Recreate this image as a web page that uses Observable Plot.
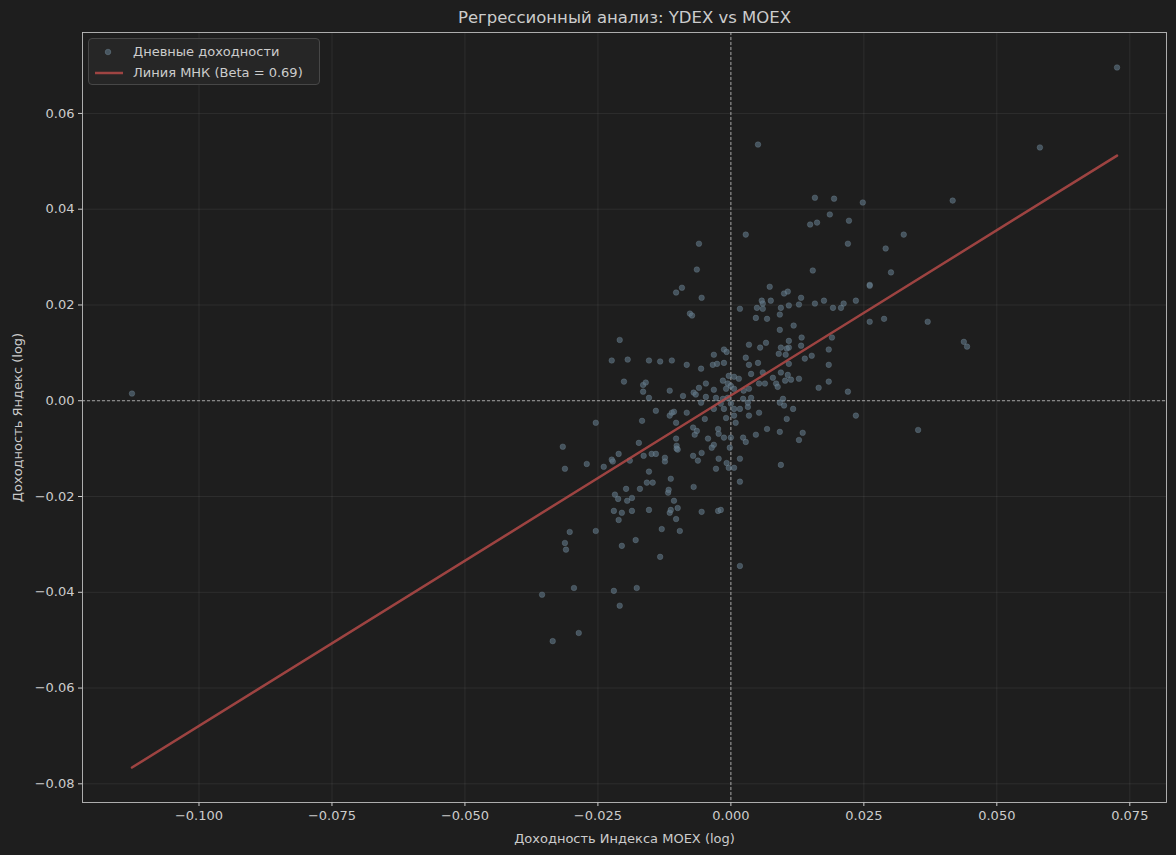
<!DOCTYPE html>
<html>
<head>
<meta charset="utf-8">
<script src="https://cdn.jsdelivr.net/npm/d3@7"></script>
<script src="https://cdn.jsdelivr.net/npm/@observablehq/plot@0.6"></script>
<style>
  html, body { margin: 0; padding: 0; background: #1e1e1e; }
  #wrap { position: relative; width: 1176px; height: 855px; font-family: "DejaVu Sans", sans-serif; }
  #legend { position: absolute; left: 88px; top: 38px; width: 232px; height: 47px;
    border: 1px solid #474747; border-radius: 4px; background: rgba(40,40,40,0.8); box-sizing: border-box; }
  #legend .lbl { position: absolute; left: 44px; font-size: 13px; color: #cccccc; line-height: 16px; white-space: nowrap; }
  #legend svg { position: absolute; left: 0; top: 0; }
</style>
</head>
<body>
<div id="wrap"></div>
<script>
const titleText = "Регрессионный анализ: YDEX vs MOEX";
const xLabelText = "Доходность Индекса MOEX (log)";
const yLabelText = "Доходность Яндекс (log)";
const pointsLabel = "Дневные доходности";
const lineLabel = "Линия МНК (Beta = 0.69)";

const xTicks = [-0.100, -0.075, -0.050, -0.025, 0.000, 0.025, 0.050, 0.075];
const yTicks = [-0.08, -0.06, -0.04, -0.02, 0.00, 0.02, 0.04, 0.06];

// Daily log returns of the MOEX index (x) and YDEX (y)
const moexReturns = [
-0.1126,0.0726,0.0581,0.0051,0.0158,0.0149,0.0162,0.0186,0.0028,-0.0060,
-0.0064,-0.0092,-0.0055,-0.0077,-0.0073,0.0154,0.0073,0.0100,0.0107,0.0132,
0.0175,0.0158,0.0075,0.0058,0.0060,0.0049,0.0060,0.0017,0.0094,0.0109,
0.0128,0.0092,0.0047,0.0068,0.0118,0.0092,-0.0103,0.0194,0.0248,0.0417,
0.0222,0.0325,0.0220,0.0291,0.0301,0.0261,0.0261,0.0235,0.0212,0.0207,
0.0192,0.0288,0.0261,0.0370,
-0.0209,-0.0224,-0.0194,-0.0154,-0.0133,-0.0111,-0.0201,-0.0165,-0.0160,-0.0165,
-0.0115,-0.0154,-0.0141,-0.0115,-0.0111,-0.0107,-0.0167,-0.0254,-0.0103,-0.0173,
-0.0103,-0.0102,-0.0102,-0.0100,-0.0316,-0.0211,-0.0224,-0.0222,-0.0190,-0.0164,
-0.0149,-0.0141,-0.0124,-0.0124,-0.0271,-0.0239,-0.0312,-0.0154,-0.0113,
-0.0158,-0.0147,-0.0197,-0.0171,-0.0218,-0.0212,-0.0195,-0.0186,-0.0118,-0.0117,
-0.0107,-0.0100,-0.0115,-0.0113,-0.0220,-0.0205,-0.0186,-0.0154,-0.0211,-0.0103,
-0.0303,-0.0254,-0.0130,-0.0096,-0.0312,-0.0310,-0.0205,-0.0179,-0.0133,-0.0295,
-0.0355,-0.0220,-0.0177,-0.0209,-0.0286,-0.0335,
-0.0070,0.0017,-0.0055,-0.0024,-0.0019,0.0017,
0.0438,0.0444,0.0220,0.0235,0.0352,
0.0053,0.0100,0.0117,0.0105,0.0068,0.0047,0.0092,0.0135,0.0128,0.0094,
-0.0083,-0.0049,-0.0032,-0.0013,0.0006,0.0017,0.0032,-0.0009,0.0006,0.0009,
0.0034,-0.0071,-0.0064,-0.0068,-0.0024,-0.0043,-0.0023,-0.0013,0.0000,0.0023,
0.0028,-0.0032,-0.0036,-0.0002,-0.0071,-0.0055,-0.0062,-0.0023,0.0017,-0.0008,
-0.0004,0.0006,-0.0028,
0.0034,-0.0013,-0.0008,-0.0032,0.0028,-0.0083,-0.0034,-0.0026,-0.0013,0.0034,
-0.0056,0.0038,-0.0004,0.0006,0.0015,-0.0015,-0.0047,-0.0006,0.0000,0.0006,
-0.0009,-0.0032,-0.0060,-0.0070,-0.0066,-0.0090,-0.0047,-0.0028,-0.0015,-0.0006,
0.0023,0.0038,0.0034,0.0024,-0.0019,0.0000,0.0032,-0.0056,
0.0066,0.0055,0.0133,0.0132,0.0109,0.0109,0.0105,0.0094,0.0090,0.0103,
0.0184,0.0152,0.0139,0.0051,0.0109,0.0184,0.0060,0.0094,0.0079,0.0107,
0.0102,0.0113,0.0053,0.0064,0.0085,0.0088,0.0128,0.0165,0.0184,0.0098,
0.0092,0.0190
];
const ydexReturns = [
0.0015,0.0696,0.0529,0.0535,0.0424,0.0368,0.0372,0.0389,0.0347,0.0328,
0.0274,0.0236,0.0215,0.0182,0.0178,0.0272,0.0238,0.0224,0.0228,0.0215,
0.0209,0.0203,0.0209,0.0209,0.0203,0.0194,0.0192,0.0192,0.0194,0.0199,
0.0201,0.0180,0.0173,0.0171,0.0157,0.0148,0.0226,0.0422,0.0414,0.0418,
0.0376,0.0347,0.0328,0.0318,0.0268,0.0242,0.0240,0.0209,0.0203,0.0194,
0.0194,0.0171,0.0165,0.0165,
0.0127,0.0084,0.0086,0.0084,0.0082,0.0084,0.0040,0.0033,0.0038,0.0019,
0.0021,0.0006,-0.0021,-0.0031,-0.0025,-0.0023,-0.0042,-0.0046,-0.0046,-0.0088,
-0.0079,-0.0094,-0.0100,-0.0102,-0.0096,-0.0111,-0.0123,-0.0127,-0.0125,-0.0115,
-0.0111,-0.0111,-0.0119,-0.0127,-0.0132,-0.0138,-0.0142,-0.0148,-0.0163,
-0.0171,-0.0171,-0.0184,-0.0184,-0.0196,-0.0205,-0.0209,-0.0203,-0.0192,-0.0186,
-0.0209,-0.0224,-0.0234,-0.0228,-0.0230,-0.0234,-0.0230,-0.0228,-0.0249,-0.0247,
-0.0274,-0.0272,-0.0268,-0.0272,-0.0297,-0.0311,-0.0303,-0.0291,-0.0326,-0.0391,
-0.0405,-0.0397,-0.0391,-0.0428,-0.0485,-0.0502,
-0.0180,-0.0169,-0.0232,-0.0230,-0.0228,-0.0345,
0.0123,0.0113,0.0019,-0.0031,-0.0061,
-0.0025,-0.0010,-0.0017,-0.0038,-0.0059,-0.0071,-0.0065,-0.0067,-0.0082,-0.0134,
-0.0025,-0.0038,-0.0017,-0.0017,-0.0017,-0.0017,-0.0013,-0.0036,-0.0031,-0.0046,
-0.0031,-0.0056,-0.0063,-0.0071,-0.0059,-0.0079,-0.0069,-0.0077,-0.0077,-0.0077,
-0.0086,-0.0092,-0.0098,-0.0098,-0.0115,-0.0109,-0.0125,-0.0121,-0.0121,-0.0130,
-0.0140,-0.0140,-0.0142,
0.0117,0.0107,0.0102,0.0096,0.0090,0.0075,0.0075,0.0077,0.0079,0.0075,
0.0067,0.0056,0.0052,0.0050,0.0046,0.0042,0.0036,0.0036,0.0031,0.0025,
0.0025,0.0023,0.0027,0.0017,0.0013,0.0010,0.0008,0.0006,0.0004,0.0006,
0.0004,0.0006,0.0025,0.0021,-0.0006,-0.0006,-0.0004,-0.0004,
0.0121,0.0111,0.0132,0.0115,0.0125,0.0111,0.0109,0.0111,0.0098,0.0096,
0.0107,0.0094,0.0088,0.0079,0.0077,0.0075,0.0059,0.0059,0.0048,0.0054,
0.0042,0.0044,0.0036,0.0036,0.0036,0.0029,0.0046,0.0027,0.0040,0.0004,
-0.0004,0.0132
];

// OLS line endpoints
const olsX = [-0.1126, 0.0726];
const olsY = [-0.0766, 0.0512];

const points = moexReturns.map((x, i) => ({x, y: ydexReturns[i]}));
const olsLine = olsX.map((x, i) => ({x, y: olsY[i]}));

const fg = "#cccccc";
const dotFill = "#5f7787";
const dotStroke = "#7f95a3";
const lineColor = "#b44a48";
const plot = Plot.plot({
  width: 1176,
  height: 855,
  marginLeft: 82,
  marginRight: 10,
  marginTop: 32,
  marginBottom: 53,
  style: {background: "#1e1e1e", color: fg, fontFamily: "DejaVu Sans, sans-serif", fontSize: "13px", overflow: "visible"},
  x: {domain: [-0.1219, 0.0819], ticks: xTicks, tickFormat: d3.format(".3f"), tickSize: 4, tickPadding: 4, label: null},
  y: {domain: [-0.0839, 0.0769], ticks: yTicks, tickFormat: d3.format(".2f"), tickSize: 4, tickPadding: 4, label: null},
  marks: [
    Plot.gridX(xTicks, {stroke: "#ffffff", strokeOpacity: 0.07}),
    Plot.gridY(yTicks, {stroke: "#ffffff", strokeOpacity: 0.07}),
    Plot.ruleX([0], {stroke: "#e0e0e0", strokeWidth: 0.8, strokeDasharray: "3,2", strokeOpacity: 0.85}),
    Plot.ruleY([0], {stroke: "#e0e0e0", strokeWidth: 0.8, strokeDasharray: "3,2", strokeOpacity: 0.85}),
    Plot.dot(points, {x: "x", y: "y", r: 2.8, fill: dotFill, fillOpacity: 0.6, stroke: dotStroke, strokeOpacity: 0.35, strokeWidth: 0.8}),
    Plot.line(olsLine, {x: "x", y: "y", stroke: lineColor, strokeOpacity: 0.85, strokeWidth: 2.5}),
    Plot.frame({stroke: "#bdbdbd", strokeWidth: 0.9}),
    Plot.text([titleText], {frameAnchor: "top", dy: -15, lineAnchor: "middle", textAnchor: "middle", fontSize: 16.5, fill: fg}),
    Plot.text([xLabelText], {frameAnchor: "bottom", dy: 36, lineAnchor: "middle", textAnchor: "middle", fontSize: 13, fill: fg}),
    Plot.text([yLabelText], {frameAnchor: "left", dx: -65, rotate: -90, lineAnchor: "middle", textAnchor: "middle", fontSize: 13, fill: fg})
  ]
});

const wrap = document.getElementById("wrap");
wrap.appendChild(plot);

// Legend
const legend = document.createElement("div");
legend.id = "legend";
legend.innerHTML = `
  <svg width="232" height="47">
    <circle cx="19" cy="13" r="2.8" fill="${dotFill}" fill-opacity="0.6" stroke="${dotStroke}" stroke-opacity="0.35"></circle>
    <line x1="6" x2="34" y1="34" y2="34" stroke="${lineColor}" stroke-opacity="0.85" stroke-width="2.5"></line>
  </svg>
  <div class="lbl" style="top:5px">${pointsLabel}</div>
  <div class="lbl" style="top:26px">${lineLabel}</div>`;
wrap.appendChild(legend);
</script>
</body>
</html>
